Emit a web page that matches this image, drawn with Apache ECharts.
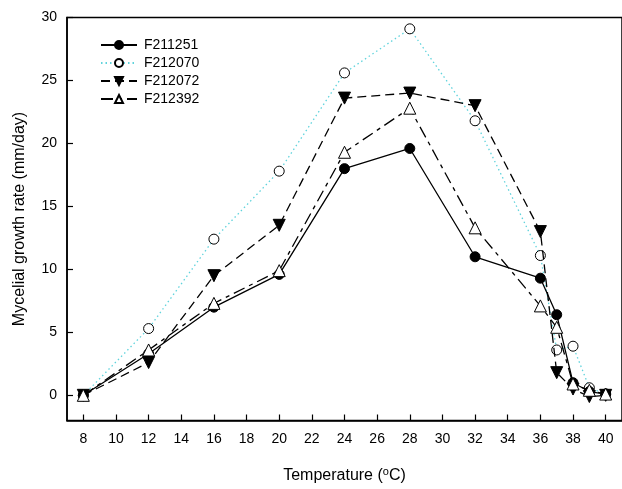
<!DOCTYPE html>
<html>
<head>
<meta charset="utf-8">
<script src="https://cdn.jsdelivr.net/npm/echarts@6/dist/echarts.min.js"></script>
<style>
html,body{margin:0;padding:0;background:#fff;}
#chart{width:622px;height:489px;}
</style>
</head>
<body>
<div id="chart"></div>
<script>
const temps = [8, 12, 16, 20, 24, 28, 32, 36, 37, 38, 39, 40];
const F211251 = [0, 3.3, 7.0, 9.6, 18.0, 19.6, 11.0, 9.3, 6.4, 1.0, 0.3, 0.1];
const F212070 = [0, 5.3, 12.4, 17.8, 25.6, 29.1, 21.8, 11.1, 3.6, 3.9, 0.6, 0.1];
const F212072 = [0, 2.6, 9.5, 13.5, 23.6, 24.0, 23.0, 13.0, 1.8, 0.5, -0.1, 0.0];
const F212392 = [0, 3.6, 7.3, 9.9, 19.3, 22.8, 13.3, 7.1, 5.4, 0.9, 0.4, 0.1];
const xTicks = [8, 10, 12, 14, 16, 18, 20, 22, 24, 26, 28, 30, 32, 34, 36, 38, 40];
const yTicks = [0, 5, 10, 15, 20, 25, 30];

const FONT = "'Liberation Sans', Arial, sans-serif";
const pair = arr => temps.map((t, i) => [t, arr[i]]);

const chart = echarts.init(document.getElementById('chart'), null, {renderer: 'canvas'});
chart.setOption({
  animation: false,
  backgroundColor: '#fff',
  grid: {left: 67, top: 17.5, width: 559, height: 403, show: true, borderColor: '#000', borderWidth: 1.5, backgroundColor: 'transparent'},
  legend: {
    orient: 'vertical', left: 100, top: 38, itemWidth: 36, itemHeight: 10, itemGap: 4, padding: 0,
    textStyle: {fontFamily: FONT, fontSize: 14, lineHeight: 14, color: '#000', padding: [0, 0, 0, 2]},
    data: ['F211251', 'F212070', 'F212072', 'F212392']
  },
  xAxis: {
    type: 'value', min: 7, max: 41,
    name: 'Temperature (' + '{sup|o}' + 'C)', nameLocation: 'middle', nameGap: 46,
    nameTextStyle: {fontFamily: FONT, fontSize: 16, color: '#000', rich: {sup: {fontFamily: FONT, fontSize: 11, color: '#000', verticalAlign: 'top', padding: [0, 0, 8, 0]}}},
    axisLine: {onZero: false, lineStyle: {color: '#000', width: 1.5}},
    axisTick: {inside: true, length: 6, lineStyle: {color: '#000', width: 1.2}, customValues: xTicks},
    axisLabel: {fontFamily: FONT, fontSize: 14, color: '#000', margin: 12, customValues: xTicks},
    splitLine: {show: false}
  },
  yAxis: {
    type: 'value', min: -2, max: 30,
    name: 'Mycelial growth rate (mm/day)', nameLocation: 'middle', nameGap: 39,
    nameTextStyle: {fontFamily: FONT, fontSize: 16, color: '#000'},
    axisLine: {onZero: false, lineStyle: {color: '#000', width: 1.5}},
    axisTick: {inside: true, length: 6, lineStyle: {color: '#000', width: 1.2}, customValues: yTicks},
    axisLabel: {fontFamily: FONT, fontSize: 14, color: '#000', margin: 10, customValues: yTicks},
    splitLine: {show: false}
  },
  series: [
    {name: 'F211251', type: 'line', data: pair(F211251), symbol: 'circle', symbolSize: 10,
     lineStyle: {color: '#000', width: 1.3, type: 'solid'},
     itemStyle: {color: '#000', borderColor: '#000', borderWidth: 1}, z: 4},
    {name: 'F212070', type: 'line', data: pair(F212070), symbol: 'circle', symbolSize: 10,
     lineStyle: {color: '#5fd3dc', width: 1.3, type: [1.5, 3]},
     itemStyle: {color: '#fff', borderColor: '#000', borderWidth: 1}, z: 2},
    {name: 'F212072', type: 'line', data: pair(F212072), symbol: 'triangle', symbolRotate: 180, symbolSize: 12,
     lineStyle: {color: '#000', width: 1.3, type: [9, 5]},
     itemStyle: {color: '#000', borderColor: '#000', borderWidth: 1}, z: 3},
    {name: 'F212392', type: 'line', data: pair(F212392), symbol: 'triangle', symbolSize: 12,
     lineStyle: {color: '#000', width: 1.3, type: [12, 5, 4, 5]},
     itemStyle: {color: '#fff', borderColor: '#000', borderWidth: 1}, z: 5}
  ]
});
</script>
</body>
</html>
